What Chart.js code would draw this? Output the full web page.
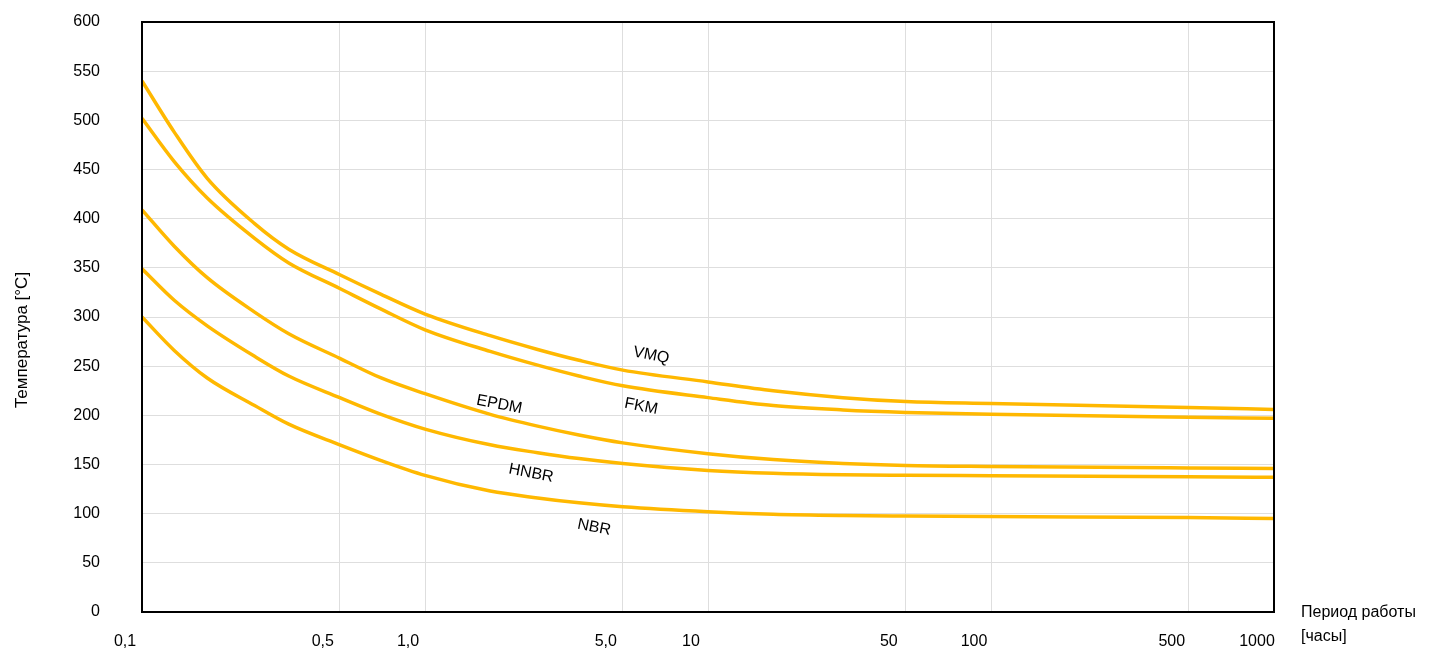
<!DOCTYPE html>
<html>
<head>
<meta charset="utf-8">
<script src="https://cdn.jsdelivr.net/npm/chart.js@4/dist/chart.umd.min.js"></script>
<style>
  html, body { margin: 0; padding: 0; background: #fff; }
  canvas { display: block; }
</style>
</head>
<body>
<canvas id="chart" width="1444" height="653"></canvas>
<script>
// hours of operation (log axis)
const hours = [0.1, 0.13, 0.17, 0.25, 0.33, 0.5, 0.7, 1, 1.7, 2.5, 3.5, 5, 10, 17, 30, 50, 100, 500, 1000];

const vmq  = [540, 488, 441, 395, 369, 343, 323, 303, 281, 267, 256, 246, 234, 225, 218, 214, 212, 208, 206];
const fkm  = [502, 458, 421, 380, 355, 329, 308, 287, 265, 251, 240, 230, 218, 210, 205.5, 203, 201, 198, 197];
const epdm = [409, 372, 340, 305, 283, 258, 238, 222, 201, 189, 180, 172, 161, 155, 151, 149, 148, 146.5, 146];
const hnbr = [349, 317, 291, 260, 240, 218, 201, 186, 170, 162, 156, 151, 144, 141, 139.5, 139, 138.6, 137.6, 137];
const nbr  = [300, 266, 238, 210, 191, 170, 154, 139, 123, 116, 111, 107, 102, 99.5, 98.2, 97.6, 97, 96, 95];

const xTicks = [0.1, 0.5, 1, 5, 10, 50, 100, 500, 1000];
const xTickLabels = ['0,1', '0,5', '1,0', '5,0', '10', '50', '100', '500', '1000'];

const curveNames = ['VMQ', 'FKM', 'EPDM', 'HNBR', 'NBR'];
const labelHours = [6.3, 5.8, 1.83, 2.37, 3.96];
const labelTemps = [261, 209, 211, 141, 86];

const LINE = '#FFB800';
const FONT = '"Liberation Sans", Arial, Helvetica, sans-serif';

const series = [vmq, fkm, epdm, hnbr, nbr];

// draws the frame, the curve names and the axis titles
const decorations = {
  id: 'decorations',
  afterDraw(chart) {
    const { ctx, chartArea: a, scales } = chart;
    ctx.save();

    ctx.strokeStyle = '#000';
    ctx.lineWidth = 2;
    ctx.strokeRect(a.left, a.top, a.right - a.left, a.bottom - a.top);

    ctx.fillStyle = '#000';
    ctx.font = '16px ' + FONT;
    ctx.textAlign = 'center';
    ctx.textBaseline = 'middle';
    curveNames.forEach((name, i) => {
      const px = scales.x.getPixelForValue(labelHours[i]);
      const py = scales.y.getPixelForValue(labelTemps[i]);
      ctx.save();
      ctx.translate(px, py);
      ctx.rotate(11 * Math.PI / 180);
      ctx.fillText(name, 0, 0);
      ctx.restore();
    });

    // y title
    ctx.save();
    ctx.font = '17px ' + FONT;
    ctx.translate(22, (a.top + a.bottom) / 2 + 23);
    ctx.rotate(-Math.PI / 2);
    ctx.fillText('Температура [°C]', 0, 0);
    ctx.restore();

    // x title
    ctx.font = '16px ' + FONT;
    ctx.textAlign = 'left';
    ctx.fillText('Период работы', a.right + 27, a.bottom + 1);
    ctx.fillText('[часы]', a.right + 27, a.bottom + 25);

    ctx.restore();
  }
};

new Chart(document.getElementById('chart'), {
  type: 'line',
  data: {
    datasets: curveNames.map((name, i) => ({
      label: name,
      data: hours.map((h, j) => ({ x: h, y: series[i][j] })),
      borderColor: LINE,
      borderWidth: 3.5,
      pointRadius: 0,
      cubicInterpolationMode: 'monotone',
      fill: false
    }))
  },
  options: {
    responsive: false,
    animation: false,
    devicePixelRatio: 1,
    layout: { padding: { top: 22, right: 170, left: 0, bottom: 0 } },
    plugins: {
      legend: { display: false },
      tooltip: { enabled: false }
    },
    scales: {
      x: {
        type: 'logarithmic',
        min: 0.1,
        max: 1000,
        afterBuildTicks: (scale) => {
          scale.ticks = xTicks.map((v) => ({ value: v }));
        },
        afterFit: (scale) => { scale.height = 41; },
        grid: { color: '#dedede', lineWidth: 1, drawTicks: false },
        border: { display: false },
        ticks: {
          autoSkip: false,
          maxRotation: 0,
          padding: 20,
          labelOffset: -17,
          color: '#000',
          font: { family: FONT, size: 16 },
          callback: (value) => {
            const i = xTicks.indexOf(value);
            return i >= 0 ? xTickLabels[i] : '';
          }
        }
      },
      y: {
        min: 0,
        max: 600,
        afterFit: (scale) => {
          // tick padding would otherwise push the plot area in from top and bottom
          scale.width = 142;
          scale.paddingTop = 0;
          scale.paddingBottom = 0;
        },
        grid: { color: '#dedede', lineWidth: 1, drawTicks: false },
        border: { display: false },
        ticks: {
          stepSize: 50,
          padding: 42,
          color: '#000',
          font: { family: FONT, size: 16 }
        }
      }
    }
  },
  plugins: [decorations]
});
</script>
</body>
</html>
